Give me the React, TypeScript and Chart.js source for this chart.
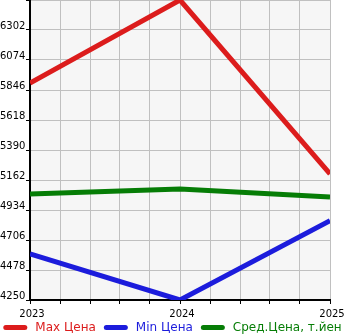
import React, { useEffect, useRef } from "react";
import { Chart, registerables } from "chart.js";

Chart.register(...registerables);

const years = [2023, 2024, 2025];
const maxPrices = [5899, 6530, 5208];
const minPrices = [4600, 4250, 4853];
const avgPrices = [5056, 5094, 5033];
const seriesNames = ["Max Цена", "Min Цена", "Сред.Цена, т.йен"];
const seriesColors = ["#dc1c1c", "#1c1cdc", "#067d06"];
const yMin = 4250;
const yMax = 6530;
const yStep = 228;
const xStep = 0.2;

const FONT = '"DejaVu Sans", sans-serif';

const bgPlugin = {
  id: "bgPlugin",
  beforeDraw(chart: any) {
    const { ctx, chartArea } = chart;
    ctx.save();
    ctx.fillStyle = "#f6f6f6";
    ctx.fillRect(chartArea.left, chartArea.top, chartArea.right - chartArea.left, chartArea.bottom - chartArea.top);
    ctx.restore();
  },
};

const legendPlugin = {
  id: "customLegend",
  afterDraw(chart: any) {
    const ctx = chart.ctx;
    ctx.save();
    ctx.font = "12px " + FONT;
    const widths = seriesNames.map((n) => ctx.measureText(n).width);
    const itemPre = 32;
    const gap = 8;
    const total = widths.reduce((a, b) => a + b, 0) + itemPre * seriesNames.length + gap * (seriesNames.length - 1);
    let x = (chart.width - total) / 2;
    const y = 327.5;
    seriesNames.forEach((name, i) => {
      ctx.strokeStyle = seriesColors[i];
      ctx.lineWidth = 5;
      ctx.lineCap = "round";
      ctx.beginPath();
      ctx.moveTo(x + 2.5, y);
      ctx.lineTo(x + 21.5, y);
      ctx.stroke();
      ctx.fillStyle = seriesColors[i];
      ctx.textBaseline = "middle";
      ctx.textAlign = "left";
      ctx.fillText(name, x + itemPre, y);
      x += itemPre + widths[i] + gap;
    });
    ctx.restore();
  },
};

export default function App() {
  const ref = useRef<HTMLCanvasElement>(null);
  useEffect(() => {
    const toPts = (arr: number[]) => arr.map((v, i) => ({ x: years[i], y: v }));
    const chart = new Chart(ref.current!, {
      type: "line",
      data: {
        datasets: [maxPrices, minPrices, avgPrices].map((arr, i) => ({
          label: seriesNames[i],
          data: toPts(arr),
          borderColor: seriesColors[i],
          backgroundColor: seriesColors[i],
          borderWidth: 5,
          pointRadius: 0,
          tension: 0,
          fill: false,
        })),
      },
      options: {
        animation: false,
        responsive: false,
        maintainAspectRatio: false,
        layout: { padding: 0 },
        plugins: { legend: { display: false }, tooltip: { enabled: false } },
        scales: {
          x: {
            type: "linear",
            min: years[0],
            max: years[years.length - 1],
            afterBuildTicks(scale: any) {
              const t = [];
              const n = Math.round((years[years.length - 1] - years[0]) / xStep);
              for (let i = 0; i <= n; i++) t.push({ value: Math.round((years[0] + i * xStep) * 10) / 10 });
              scale.ticks = t;
            },
            afterFit(scale: any) {
              scale.height = 35;
              scale.paddingLeft = 0;
              scale.paddingRight = 15;
            },
            ticks: {
              autoSkip: false,
              maxRotation: 0,
              padding: 4,
              labelOffset: 2,
              color: "#000",
              font: { size: 10, family: FONT },
              callback: (v: any) => (Math.abs(v - Math.round(v)) < 1e-6 ? String(Math.round(v)) : ""),
            },
            grid: { color: "#c0c0c0", lineWidth: 1, tickLength: 4, tickColor: "#000", tickWidth: 1 },
            border: { color: "#000", width: 2 },
          },
          y: {
            type: "linear",
            min: yMin,
            max: yMax,
            afterBuildTicks(scale: any) {
              const t = [];
              const n = Math.round((yMax - yMin) / yStep);
              for (let i = 0; i <= n; i++) t.push({ value: yMin + i * yStep });
              scale.ticks = t;
            },
            afterFit(scale: any) {
              scale.width = 30;
              scale.paddingTop = 0;
              scale.paddingBottom = 0;
            },
            ticks: {
              autoSkip: false,
              crossAlign: "far",
              labelOffset: -4,
              padding: 3,
              color: "#000",
              font: { size: 10, family: FONT },
              callback: (v: any) => (v >= yMax ? "" : String(v)),
            },
            grid: { color: "#c0c0c0", lineWidth: 1, tickLength: 4, tickColor: "#000", tickWidth: 1 },
            border: { color: "#000", width: 2 },
          },
        },
      },
      plugins: [bgPlugin, legendPlugin],
    });
    return () => chart.destroy();
  }, []);
  return (
    <div style={{ position: "fixed", left: 0, top: 0, width: 345, height: 335 }}>
      <canvas ref={ref} width={345} height={335} style={{ display: "block" }} />
    </div>
  );
}
